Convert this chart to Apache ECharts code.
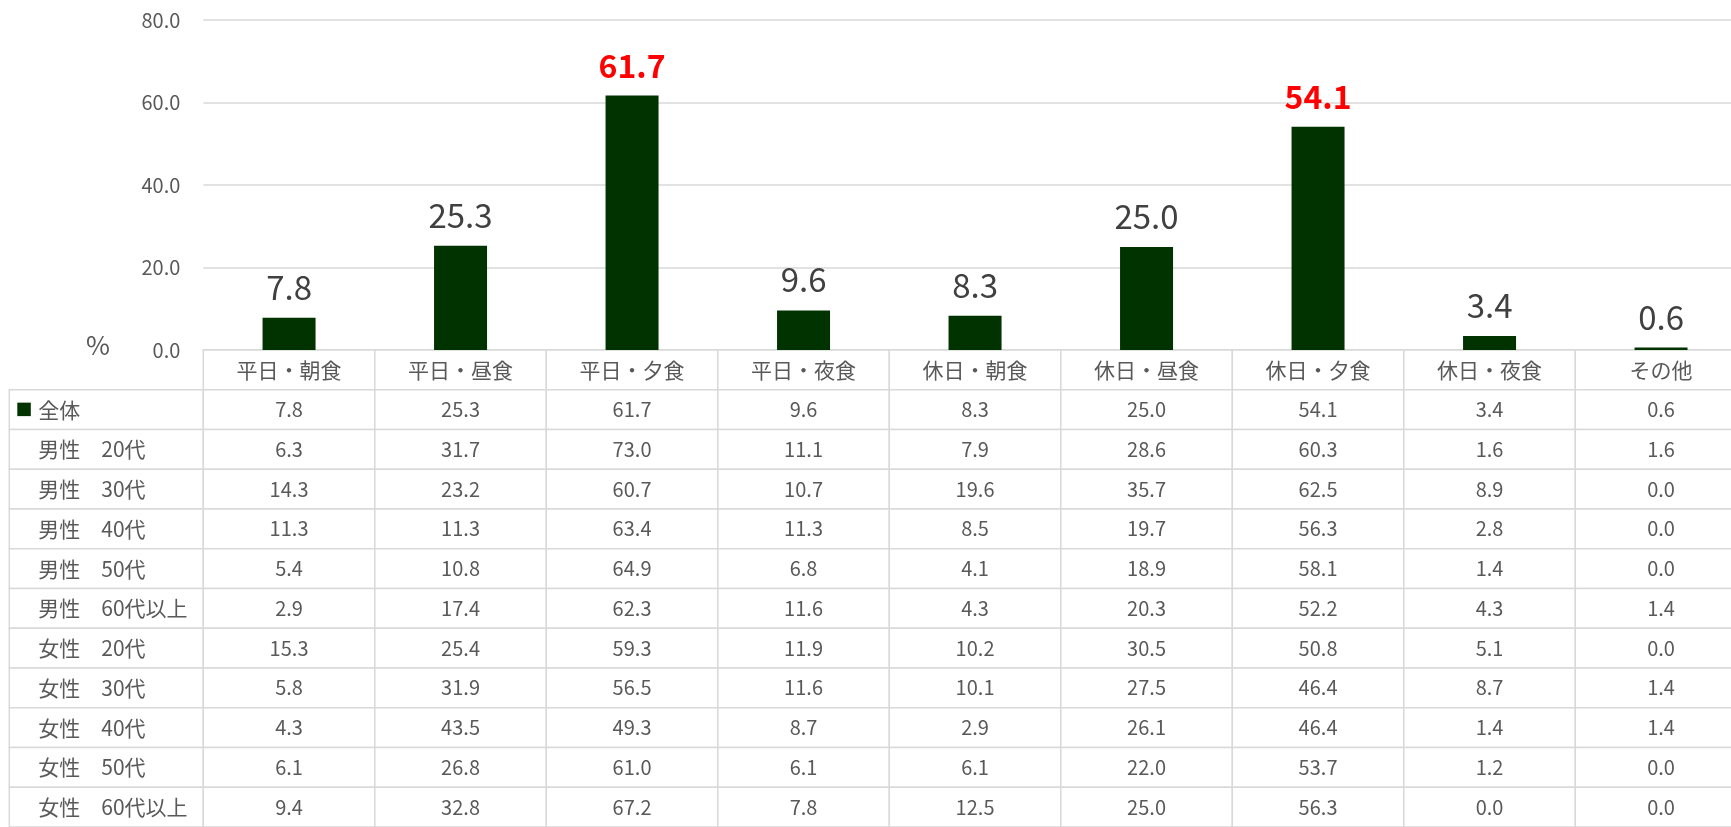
<!DOCTYPE html>
<html>
<head>
<meta charset="utf-8">
<script src="https://cdn.jsdelivr.net/npm/echarts@6/dist/echarts.min.js"></script>
<style>
html,body{margin:0;padding:0;background:#fff;overflow:hidden;width:1731px;height:827px;}
#chart{width:1760px;height:827px;}
</style>
</head>
<body>
<div id="chart"></div>
<script>
// ---- data ----
const categories = ['平日・朝食','平日・昼食','平日・夕食','平日・夜食','休日・朝食','休日・昼食','休日・夕食','休日・夜食','その他'];
const yTicks = [0, 20, 40, 60, 80];
const highlightIdx = [2, 6];
const rowLabels = ['全体','男性　20代','男性　30代','男性　40代','男性　50代','男性　60代以上','女性　20代','女性　30代','女性　40代','女性　50代','女性　60代以上'];
const total       = [7.8, 25.3, 61.7, 9.6, 8.3, 25.0, 54.1, 3.4, 0.6];
const male20      = [6.3, 31.7, 73.0, 11.1, 7.9, 28.6, 60.3, 1.6, 1.6];
const male30      = [14.3, 23.2, 60.7, 10.7, 19.6, 35.7, 62.5, 8.9, 0.0];
const male40      = [11.3, 11.3, 63.4, 11.3, 8.5, 19.7, 56.3, 2.8, 0.0];
const male50      = [5.4, 10.8, 64.9, 6.8, 4.1, 18.9, 58.1, 1.4, 0.0];
const male60plus  = [2.9, 17.4, 62.3, 11.6, 4.3, 20.3, 52.2, 4.3, 1.4];
const female20    = [15.3, 25.4, 59.3, 11.9, 10.2, 30.5, 50.8, 5.1, 0.0];
const female30    = [5.8, 31.9, 56.5, 11.6, 10.1, 27.5, 46.4, 8.7, 1.4];
const female40    = [4.3, 43.5, 49.3, 8.7, 2.9, 26.1, 46.4, 1.4, 1.4];
const female50    = [6.1, 26.8, 61.0, 6.1, 6.1, 22.0, 53.7, 1.2, 0.0];
const female60plus= [9.4, 32.8, 67.2, 7.8, 12.5, 25.0, 56.3, 0.0, 0.0];
const tableRows = [total, male20, male30, male40, male50, male60plus, female20, female30, female40, female50, female60plus];

// ---- layout / style ----
const FONT = '"Noto Sans CJK JP","Noto Sans",sans-serif';
const GRAY = '#595959';
const LINE = '#d9d9d9';
const BAR = '#003300';
const COL_W = 171.5;
const LABEL_COL = -194 / COL_W; // label column start in column units
const ROW_H = 40.08;

// build table cells: [colIndex, rowIndex, text, kind]
const cells = [];
categories.forEach((c, i) => cells.push([i, 0, c, 'head']));
tableRows.forEach((vals, r) => {
  cells.push([-1, r + 1, rowLabels[r], r === 0 ? 'legend' : 'label']);
  vals.forEach((v, c) => cells.push([c, r + 1, v.toFixed(1), 'val']));
});

const chart = echarts.init(document.getElementById('chart'), null, {renderer: 'canvas'});
chart.setOption({
  animation: false,
  backgroundColor: '#fff',
  textStyle: {fontFamily: FONT},
  grid: [
    {left: 203.3, top: 20, width: COL_W * 9, height: 330},
    {left: 9.3, top: 350, width: COL_W * (9 - LABEL_COL), height: ROW_H * 12}
  ],
  xAxis: [
    {type: 'category', gridIndex: 0, data: categories,
     axisLine: {show: true, lineStyle: {color: LINE, width: 1.5}},
     axisTick: {show: false}, axisLabel: {show: false}},
    {type: 'value', gridIndex: 1, min: LABEL_COL, max: 9, show: false}
  ],
  yAxis: [
    {type: 'value', gridIndex: 0, min: 0, max: 80, interval: 20,
     axisLine: {show: false}, axisTick: {show: false},
     splitLine: {lineStyle: {color: LINE, width: 1.5}},
     axisLabel: {formatter: v => yTicks.includes(v) ? v.toFixed(1) : '', color: GRAY, fontSize: 20, margin: 23, fontFamily: FONT}},
    {type: 'value', gridIndex: 1, min: 0, max: 12, inverse: true, show: false}
  ],
  graphic: [
    {type: 'text', left: 86, top: 332, style: {text: '%', fontSize: 26, fill: GRAY, fontFamily: FONT}}
  ],
  series: [
    {
      type: 'bar', xAxisIndex: 0, yAxisIndex: 0, barWidth: 53,
      itemStyle: {color: BAR},
      data: total.map((v, i) => ({
        value: v,
        label: highlightIdx.includes(i)
          ? {color: '#ff0000', fontWeight: 'bold', fontSize: 32}
          : {}
      })),
      label: {show: true, position: 'top', distance: 14, fontSize: 33, color: '#404040',
              fontFamily: FONT, formatter: p => p.value.toFixed(1)}
    },
    {
      type: 'custom', xAxisIndex: 1, yAxisIndex: 1,
      coordinateSystem: 'cartesian2d',
      clip: false,
      data: cells,
      renderItem: function (params, api) {
        const c = api.value(0), r = api.value(1);
        const d = cells[params.dataIndex];
        const left = c < 0 ? LABEL_COL : c;
        const p0 = api.coord([left, r]);
        const p1 = api.coord([c + 1, r + 1]);
        const w = p1[0] - p0[0], h = p1[1] - p0[1];
        const children = [{
          type: 'rect',
          shape: {x: p0[0], y: p0[1], width: w, height: h},
          style: {fill: '#fff', stroke: LINE, lineWidth: 1.5}
        }];
        const cy = p0[1] + h / 2;
        if (d[3] === 'val' || d[3] === 'head') {
          children.push({type: 'text', x: p0[0] + w / 2, y: cy,
            style: {text: d[2], fontSize: d[3] === 'head' ? 21 : 20, fill: GRAY, align: 'center', verticalAlign: 'middle', fontFamily: FONT}});
        } else {
          if (d[3] === 'legend') {
            children.push({type: 'rect', shape: {x: p0[0] + 8, y: cy - 7, width: 13.5, height: 13.5},
              style: {fill: BAR}});
          }
          children.push({type: 'text', x: p0[0] + 29, y: cy,
            style: {text: d[2], fontSize: 21, fill: GRAY, align: 'left', verticalAlign: 'middle', fontFamily: FONT}});
        }
        return {type: 'group', children: children};
      },
      z: 1
    }
  ]
});
</script>
</body>
</html>
